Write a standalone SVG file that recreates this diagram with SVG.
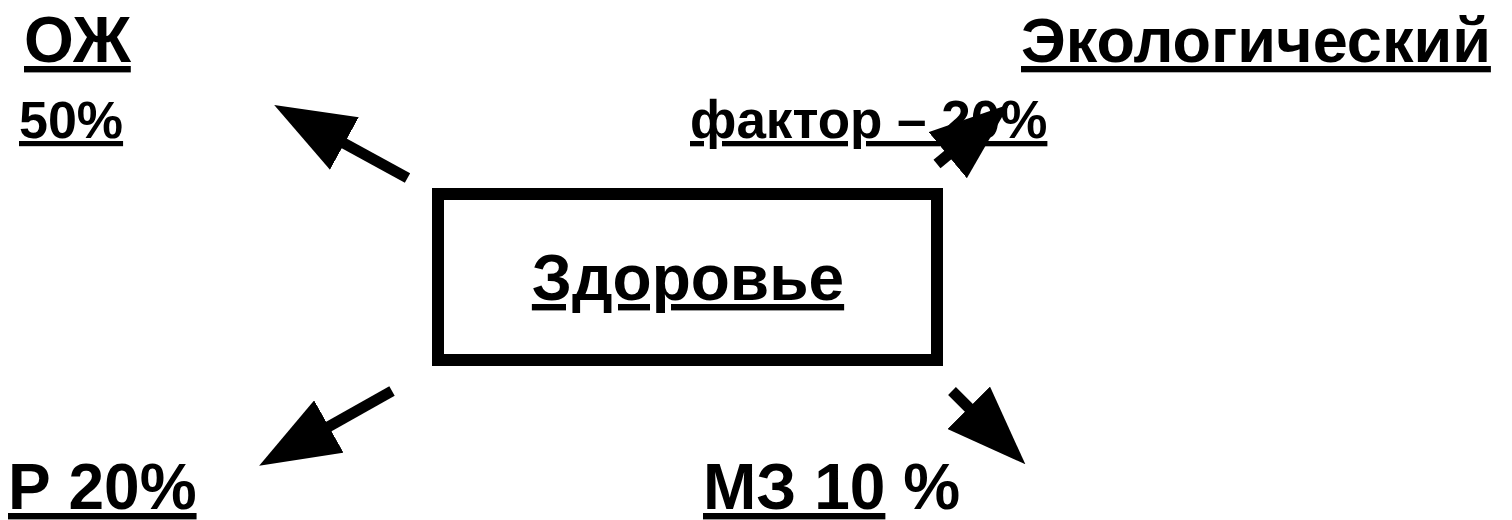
<svg xmlns="http://www.w3.org/2000/svg" width="1512" height="520" viewBox="0 0 1512 520">
<defs>
<style>
.t{font-family:"Liberation Sans",Arial,sans-serif;font-weight:bold;fill:#000}
.big{font-size:64px}
.sm{font-size:52px}
.u{text-decoration:underline}
.conn{stroke:#000;stroke-width:11;fill:none;stroke-linecap:butt}
</style>
<marker id="ah" markerUnits="userSpaceOnUse" viewBox="0 0 80 60" refX="1" refY="30" markerWidth="80" markerHeight="60" orient="auto">
<path d="M0,0 L80,30 L0,60 Z" fill="#000"/>
</marker>
</defs>
<rect width="1512" height="520" fill="#fff"/>
<g id="node-health">
<rect x="438" y="194" width="499" height="166" fill="#fff" stroke="#000" stroke-width="12"/>
<text class="t big u" x="688" y="300" text-anchor="middle">Здоровье</text>
</g>
<g id="node-oj">
<text class="t big u" x="24" y="62">ОЖ</text>
<text class="t sm u" x="19" y="138">50%</text>
</g>
<g id="node-eco">
<text class="t big u" x="1021" y="62" style="font-size:63px">Экологический</text>
<text class="t sm u" x="690" y="138" style="font-size:53px">фактор – 20%</text>
</g>
<g id="node-r">
<text class="t big u" x="8" y="509">Р 20%</text>
</g>
<g id="node-mz">
<text class="t big" x="703" y="509"><tspan class="u">МЗ 10</tspan> %</text>
</g>
<g id="connectors">
<line class="conn" x1="407.5" y1="178" x2="343.5" y2="143" marker-end="url(#ah)"/>
<line class="conn" x1="937" y1="164" x2="948.5" y2="154.5" marker-end="url(#ah)"/>
<line class="conn" x1="392" y1="391" x2="328" y2="427" marker-end="url(#ah)"/>
<line class="conn" x1="952" y1="391" x2="969.5" y2="408.5" marker-end="url(#ah)"/>
</g>
</svg>
